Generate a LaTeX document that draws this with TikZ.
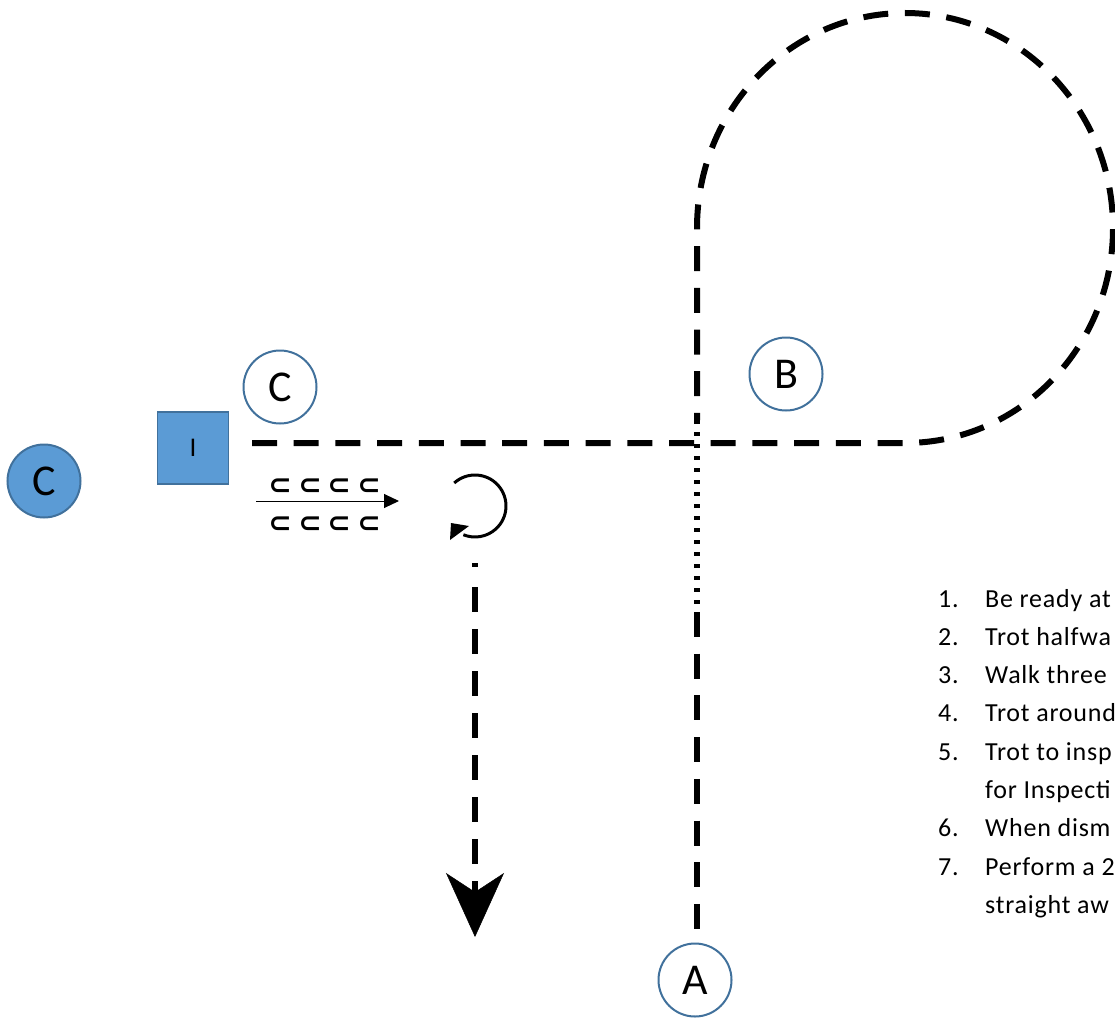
\documentclass[tikz,border=0pt]{standalone}
\usepackage{fontspec}
\setmainfont{Carlito}
\newfontfamily\listfont[LetterSpace=3]{Carlito}
\newfontfamily\symfont{DejaVu Sans}
\usetikzlibrary{arrows.meta}
\definecolor{fillblue}{HTML}{5B9BD5}
\definecolor{edgeblue}{HTML}{41719C}
\begin{document}
\begin{tikzpicture}[x=1pt,y=-1pt,
  letter/.style={circle, draw=edgeblue, line width=2pt, minimum size=73pt, inner sep=0pt, font=\fontsize{44}{44}\selectfont},
  bluefill/.style={fill=fillblue},
  route/.style={line width=6pt, dash pattern=on 25pt off 16.7pt},
  dotroute/.style={line width=6.5pt, dash pattern=on 4pt off 8pt},
  listnum/.style={anchor=base west, inner sep=0pt, font=\listfont\fontsize{26}{26}\selectfont},
  subsym/.style={inner sep=0pt, font=\symfont\bfseries\fontsize{28}{28}\selectfont},
]
\useasboundingbox (0,0) rectangle (1115,1019);
\clip (0,0) rectangle (1115,1019);

% letter markers
\node[letter, bluefill] (cBlue) at (44,481) {C};
\node[draw=edgeblue, line width=1.5pt, fill=fillblue, minimum width=71pt, minimum height=72pt, inner sep=0pt, font=\fontsize{27}{27}\selectfont] (sq) at (193,448) {I};
\node[letter] (cTop) at (280,387) {C};
\node[letter] (B) at (786,374) {B};
\node[letter] (A) at (695,980) {A};

% main route
\coordinate (hstart) at (252,443);
\coordinate (vmid1) at (697,420);
\coordinate (vmid2) at (697,612);
\coordinate (vbot) at (697,932);
\draw[route] (hstart) -- (905,443)
   arc[start angle=-90, end angle=180, x radius=208pt, y radius=215pt] -- (vmid1);
\draw[dotroute] (vmid1) -- (vmid2);
\draw[route] (vmid2) -- (vbot);

% walk arrow with symbols
\coordinate (wstart) at (256,501);
\coordinate (wend) at (399,501);
\draw[line width=1pt, -{Triangle[length=15pt,width=14pt]}] (wstart) -- (wend);
\foreach \i/\xx in {1/280,2/310,3/339,4/369}{
  \node[subsym] (su\i) at (\xx,487) {⊂};
  \node[subsym] (sl\i) at (\xx,525) {⊂};
}

% turn arrow
\coordinate (rotc) at (475,506);
\coordinate (rtipA) at (451,523);
\coordinate (rtipB) at (469,526);
\coordinate (rtip) at (450,540);
\draw[line width=3pt] (rotc) ++(132:31pt)
   arc[start angle=132, end angle=-112, radius=31pt];
\fill (rtipA) -- (rtipB) -- (rtip) -- cycle;

% straight away arrow
\coordinate (dtop) at (475,563);
\coordinate (dtip) at (475,937);
\draw[line width=6.5pt, dash pattern=on 4pt off 20pt on 25pt off 17pt on 25pt off 17pt on 25pt off 17pt on 25pt off 17pt on 25pt off 17pt on 25pt off 17pt on 25pt off 17pt on 25pt off 17pt,
   -{Stealth[length=64pt,width=58pt,inset=19pt,line width=0.5pt]}] (dtop) -- (dtip);

% list
\node[listnum] (n1) at (938,607) {1.};
\node[listnum] (t1) at (985,607) {Be ready at};
\node[listnum] (n2) at (938,645.3) {2.};
\node[listnum] (t2) at (985,645.3) {Trot halfwa};
\node[listnum] (n3) at (938,683.6) {3.};
\node[listnum] (t3) at (985,683.6) {Walk three};
\node[listnum] (n4) at (938,721.9) {4.};
\node[listnum] (t4) at (985,721.9) {Trot around};
\node[listnum] (n5) at (938,760.2) {5.};
\node[listnum] (t5) at (985,760.2) {Trot to insp};
\node[listnum] (t5b) at (985,798.5) {for Inspecti};
\node[listnum] (n6) at (938,836.8) {6.};
\node[listnum] (t6) at (985,836.8) {When dism};
\node[listnum] (n7) at (938,875.1) {7.};
\node[listnum] (t7) at (985,875.1) {Perform a 2};
\node[listnum] (t7b) at (985,913.4) {straight aw};
\end{tikzpicture}
\end{document}
